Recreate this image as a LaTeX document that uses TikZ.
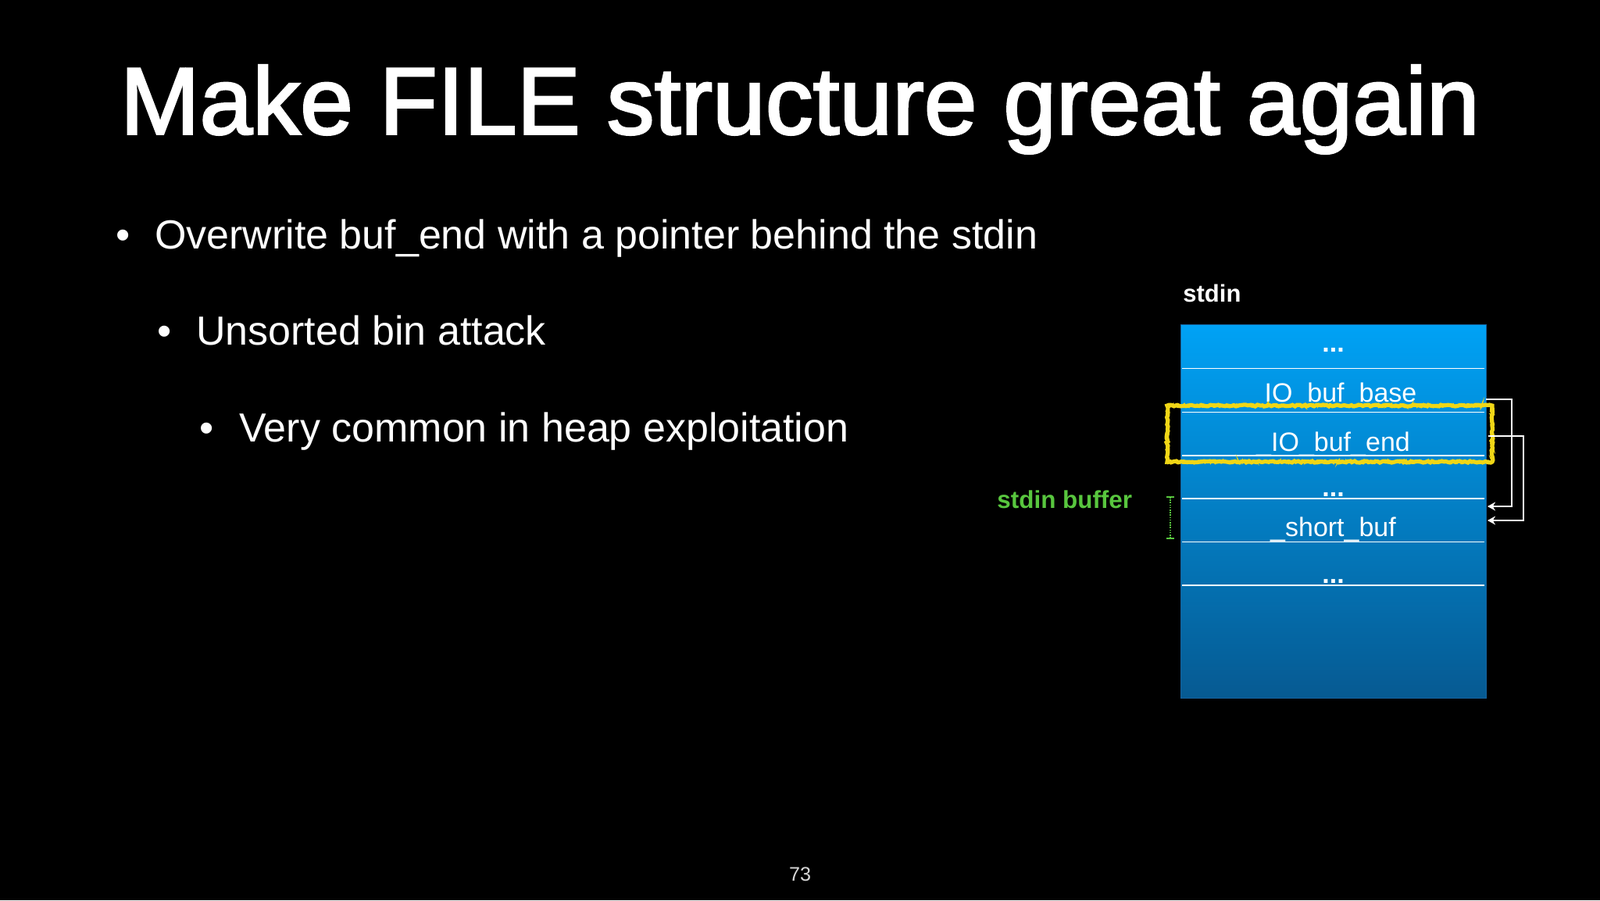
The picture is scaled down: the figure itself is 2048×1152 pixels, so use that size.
\documentclass[tikz,border=0pt]{standalone}
\usepackage{fontspec}
\setmainfont{Liberation Sans}
\newfontfamily\titlefont{Liberation Sans}[FakeBold=2.2]
\usetikzlibrary{arrows.meta,decorations.pathmorphing}
\definecolor{topblue}{RGB}{0,162,245}
\definecolor{botblue}{RGB}{6,90,146}
\definecolor{edgeblue}{RGB}{22,98,158}
\definecolor{gbuf}{RGB}{88,198,62}
\definecolor{hl}{RGB}{240,214,22}
\definecolor{pgnum}{RGB}{215,215,215}
\tikzset{
  bultxt/.style={inner sep=0pt, outer sep=0pt, text=white, anchor=base west,
    font=\fontsize{26pt}{30pt}\selectfont},
  buldot/.style={inner sep=0pt, outer sep=0pt, text=white, anchor=base,
    font=\fontsize{26pt}{30pt}\selectfont},
  cell/.style={inner sep=0pt, outer sep=0pt, text=white, anchor=base,
    font=\fontsize{17pt}{20pt}\selectfont},
  dots/.style={cell, font=\bfseries\fontsize{17pt}{20pt}\selectfont},
  sepline/.style={draw=white, line width=0.9pt},
  link/.style={draw=white, line width=0.9pt, -{Stealth[length=5pt,width=5.5pt]}},
  hlbox/.style={draw=hl, line width=2.6pt, decorate,
    decoration={random steps, segment length=1.5pt, amplitude=0.5pt}},
  hlrough/.style={draw=hl, line width=1pt, decorate,
    decoration={random steps, segment length=1pt, amplitude=1.1pt}},
}
\begin{document}
\begin{tikzpicture}[x=0.5pt,y=-0.5pt]
\fill[black] (0,0) rectangle (2048,1152);
\useasboundingbox (0,0) rectangle (2048,1152);

% title
\node[anchor=base, text=white, inner sep=0pt,
  font=\titlefont\fontsize{60.9pt}{70pt}\selectfont] (title) at (1024,171.5)
  {Make FILE structure great again};

% bullets
\node[buldot] (d1) at (157.7,318) {•};
\node[bultxt] (t1) at (198,318) {Overwrite buf\_end with a pointer behind the stdin};
\node[buldot] (d2) at (210.4,441) {•};
\node[bultxt] (t2) at (251,441) {Unsorted bin attack};
\node[buldot] (d3) at (264.5,565) {•};
\node[bultxt] (t3) at (306,565) {Very common in heap exploitation};

% page number
\node[anchor=base, inner sep=0pt, text=pgnum, font=\fontsize{12.6pt}{15pt}\selectfont]
  (pg) at (1024,1127) {73};

% stdin structure
\node[anchor=base west, inner sep=0pt, text=white,
  font=\bfseries\fontsize{15.5pt}{18pt}\selectfont] (stdinlbl) at (1514,386) {stdin};
\node[rectangle, inner sep=0pt, minimum width=195.5pt, minimum height=239pt,
  top color=topblue, bottom color=botblue, draw=edgeblue, line width=0.5pt]
  (box) at (1706.5,654) {};

\foreach \yy in {471.5,527.5,583,638,693.5,749}{
  \draw[sepline] (1513,\yy) -- (1900,\yy);
}

\node[dots] (c1) at (1706.5,450) {...};
\node[cell] (c2) at (1706.5,514) {\_IO\_buf\_base};
\node[cell] (c3) at (1706.5,577) {\_IO\_buf\_end};
\node[dots] (c4) at (1706.5,635) {...};
\node[cell] (c5) at (1706.5,686) {\_short\_buf};
\node[dots] (c6) at (1706.5,746) {...};

% highlight
\draw[hlbox] (1494,519) rectangle (1910,591);
\draw[hlrough] (1494,519) rectangle (1910,591);

% pointer arrows
\coordinate (a1s) at (1902,510.7);
\coordinate (a1e) at (1904,648);
\coordinate (a2s) at (1905,558);
\coordinate (a2e) at (1904,666);
\draw[link] (a1s) -- (1935,510.7) |- (a1e);
\draw[link] (a2s) -- (1950,558) |- (a2e);

% stdin buffer label and bracket
\node[anchor=base west, inner sep=0pt, text=gbuf,
  font=\bfseries\fontsize{15.7pt}{18pt}\selectfont] (buflbl) at (1276,650) {stdin buffer};
\coordinate (br1) at (1498,636);
\coordinate (br2) at (1498,689);
\draw[gbuf, line width=0.8pt, dash pattern=on 0.8pt off 0.8pt] (br1) -- (br2);
\draw[gbuf, line width=0.9pt] ([xshift=-2.5pt]br1) -- ([xshift=2.5pt]br1);
\draw[gbuf, line width=0.9pt] ([xshift=-2.5pt]br2) -- ([xshift=2.5pt]br2);
\end{tikzpicture}
\end{document}
